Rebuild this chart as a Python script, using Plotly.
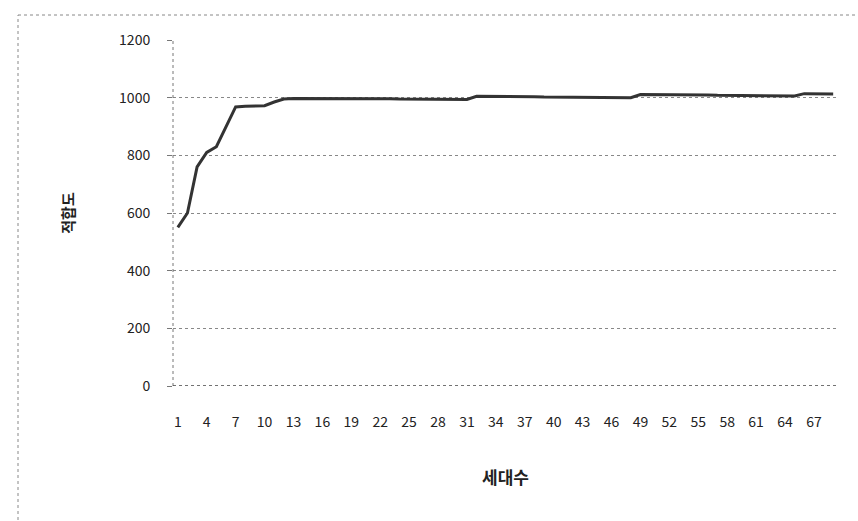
import plotly.graph_objects as go

generations = list(range(1, 70))
fitness = [
    550, 600, 760, 810, 830, 900, 968, 970, 970, 972, 985, 995,
    997, 997, 998, 998, 997, 997, 997, 996, 996, 996, 996, 995, 995, 995, 995, 995, 994, 994, 994,
    1005, 1005, 1004, 1004, 1004, 1003, 1003, 1002, 1002,
    1001, 1001, 1001, 1000, 1000, 1000, 1000, 1000,
    1011, 1011, 1010, 1010, 1010, 1009, 1009, 1009, 1008, 1008, 1008, 1007, 1007, 1007, 1007, 1006, 1006,
    1014, 1014, 1013, 1013,
]
x_tick_vals = list(range(1, 70, 3))
y_tick_vals = [0, 200, 400, 600, 800, 1000, 1200]
x_title = "세대수"
y_title = "적합도"

FONT = "Noto Sans CJK KR, DejaVu Sans, sans-serif"

fig = go.Figure()
fig.add_trace(go.Scatter(
    x=generations, y=fitness, mode="lines",
    line=dict(color="#333333", width=3),
    showlegend=False,
))

fig.update_layout(
    width=858, height=521,
    margin=dict(l=173, r=20, t=40, b=135),
    paper_bgcolor="white", plot_bgcolor="white",
    font=dict(family=FONT, size=14, color="#222222"),
    xaxis=dict(
        range=[0.5, 69.5], tickmode="array", tickvals=x_tick_vals,
        ticktext=[str(v) for v in x_tick_vals],
        showgrid=False, zeroline=False, showline=False,
        ticks="", tickfont=dict(size=14, color="#222222"),
        ticklabelstandoff=26,
        title=dict(text="<b>" + x_title + "</b>", font=dict(size=17, color="#222222"), standoff=42),
    ),
    yaxis=dict(
        range=[0, 1200], tickmode="array", tickvals=y_tick_vals,
        showgrid=True, gridcolor="#888888", griddash="dot", gridwidth=1,
        zeroline=False, showline=False,
        ticks="outside", ticklen=5, tickcolor="#777777",
        tickfont=dict(size=14, color="#222222"),
        ticklabelstandoff=14,
        title=dict(text="<b>" + y_title + "</b>", font=dict(size=15, color="#222222"), standoff=40),
    ),
    shapes=[
        dict(type="line", xref="paper", yref="paper", x0=0, x1=0, y0=0, y1=1,
             line=dict(color="#777777", width=1, dash="dot")),
        dict(type="line", xref="paper", yref="y", x0=0, x1=1, y0=0, y1=0,
             line=dict(color="#444444", width=1.5, dash="dot")),
        dict(type="line", xref="paper", yref="paper",
             x0=(18 - 173) / 665, x1=1 + 25 / 665, y0=1 + 25 / 346, y1=1 + 25 / 346,
             line=dict(color="#888888", width=1, dash="dot")),
        dict(type="line", xref="paper", yref="paper",
             x0=(18 - 173) / 665, x1=(18 - 173) / 665, y0=-140 / 346, y1=1 + 25 / 346,
             line=dict(color="#888888", width=1, dash="dot")),
    ],
)

fig.write_html("out.html")
